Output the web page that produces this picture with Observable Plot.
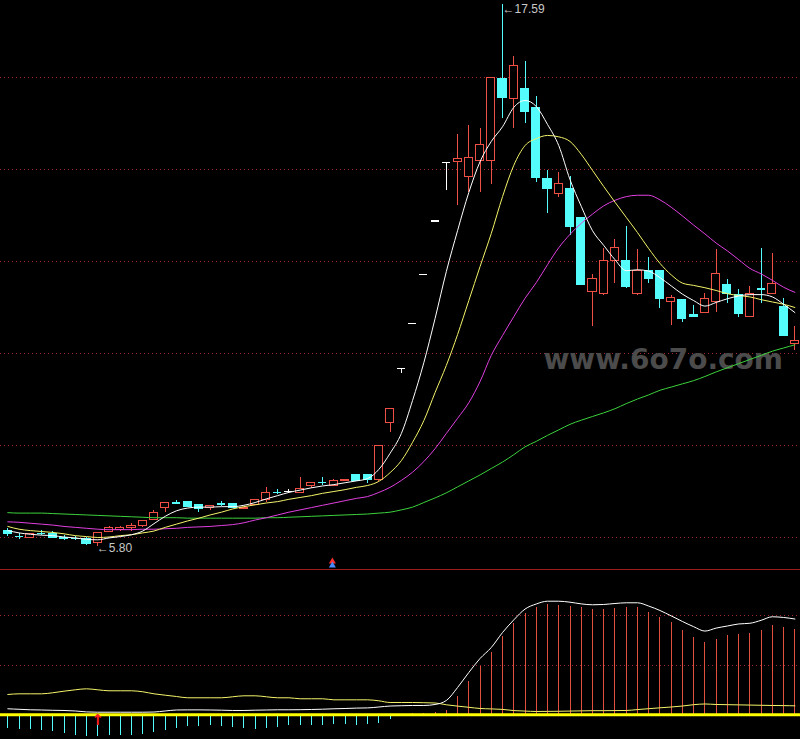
<!DOCTYPE html>
<html><head><meta charset="utf-8">
<script src="https://cdn.jsdelivr.net/npm/d3@7"></script>
<script src="https://cdn.jsdelivr.net/npm/@observablehq/plot@0.6"></script>
<style>
html,body{margin:0;padding:0;background:#000;}
#chart{width:800px;background:#000;}
#chart svg{display:block;}
#sep{height:1px;background:#9a1e1e;}
</style></head><body><div id="chart"></div>
<script>
// ---- price candles (index 0..70) ----
const opens=[6.15,6.03,5.99,6.09,6.07,6.00,5.98,5.97,5.89,6.11,
6.17,6.20,6.26,6.38,6.65,6.76,6.78,6.70,6.65,6.74,
6.72,6.61,6.71,6.82,6.99,7.00,6.97,7.12,7.20,7.11,
7.22,7.35,7.35,7.24,8.48,9.67,10.65,11.71,12.88,14.16,
14.16,13.83,14.18,14.18,15.97,15.53,15.75,15.33,13.80,13.47,
13.58,12.94,11.33,11.30,12.01,12.02,11.30,11.79,11.80,11.13,
11.17,10.84,10.88,11.12,11.48,11.28,10.79,11.42,11.30,11.01,
10.20];
const highs=[6.19,6.08,6.08,6.15,6.12,6.04,6.02,6.01,6.11,6.23,
6.24,6.30,6.38,6.59,6.77,6.80,6.79,6.71,6.69,6.78,
6.73,6.65,6.83,7.09,7.04,7.05,7.31,7.20,7.30,7.26,
7.27,7.38,7.36,8.00,8.81,9.67,10.65,11.71,12.88,14.16,
14.75,14.95,14.90,16.00,17.59,16.46,16.35,15.59,13.98,13.93,
13.85,12.95,11.71,12.28,12.48,12.77,12.26,12.09,11.81,11.26,
11.18,11.04,11.30,12.26,11.61,11.39,11.46,12.28,12.18,11.19,
10.59];
const lows=[6.02,5.96,5.98,6.04,5.98,5.93,5.93,5.83,5.80,6.10,
6.12,6.14,6.21,6.37,6.55,6.71,6.65,6.55,6.59,6.68,
6.64,6.60,6.70,6.77,6.93,6.95,6.96,7.06,7.13,7.10,
7.21,7.21,7.17,7.22,8.28,9.57,10.65,11.71,12.88,13.54,
13.22,13.51,13.51,13.67,15.10,14.90,15.01,13.72,13.04,13.40,
12.57,11.47,10.59,11.26,11.52,11.41,11.26,11.52,10.97,10.61,
10.68,10.78,10.87,10.90,11.09,10.79,10.78,11.08,11.29,10.37,
10.07];
const closes=[6.07,6.02,6.07,6.08,5.99,5.99,5.97,5.85,6.09,6.21,
6.21,6.26,6.36,6.53,6.76,6.75,6.66,6.62,6.68,6.73,
6.65,6.64,6.82,6.97,6.98,7.00,7.06,7.19,7.19,7.22,
7.26,7.22,7.26,7.99,8.80,9.67,10.65,11.71,12.88,14.16,
14.23,14.25,14.54,15.99,15.55,16.25,15.25,13.81,13.57,13.69,
12.75,11.48,11.61,12.02,12.30,11.44,11.80,11.61,11.19,11.20,
10.75,10.80,11.19,11.73,11.30,10.85,11.30,11.40,11.52,10.38,
10.28];

// ---- moving averages ----
const ma5=[6.15,6.10,6.07,6.05,6.04,6.01,5.99,5.96,5.95,5.99,
6.02,6.06,6.14,6.30,6.46,6.58,6.64,6.66,6.66,6.67,
6.67,6.70,6.76,6.84,6.91,6.98,7.03,7.08,7.12,7.15,
7.19,7.23,7.28,7.48,7.83,8.26,8.98,9.80,10.76,11.78,
12.67,13.50,14.17,14.61,14.93,15.35,15.50,15.37,14.98,14.52,
13.78,13.20,12.67,12.35,12.04,11.80,11.82,11.79,11.65,11.47,
11.29,11.15,11.03,11.11,11.19,11.25,11.28,11.28,11.23,11.07,
10.89];
const ma10=[6.24,6.18,6.15,6.13,6.11,6.08,6.04,6.02,6.00,6.01,
6.04,6.06,6.10,6.14,6.22,6.29,6.36,6.42,6.49,6.55,
6.62,6.67,6.71,6.75,6.78,6.83,6.87,6.91,6.96,7.00,
7.04,7.09,7.13,7.22,7.41,7.67,8.07,8.54,9.15,9.74,
10.41,11.15,11.89,12.61,13.41,14.09,14.52,14.67,14.74,14.71,
14.61,14.33,13.98,13.63,13.29,12.96,12.63,12.28,11.96,11.71,
11.53,11.48,11.43,11.37,11.30,11.26,11.23,11.17,11.12,11.07,
11.00];
const ma20=[6.34,6.33,6.31,6.29,6.27,6.24,6.22,6.20,6.18,6.17,
6.17,6.17,6.18,6.18,6.19,6.20,6.22,6.23,6.24,6.26,
6.28,6.32,6.38,6.43,6.49,6.55,6.60,6.65,6.70,6.75,
6.80,6.85,6.89,6.98,7.09,7.24,7.42,7.65,7.93,8.26,
8.59,8.93,9.39,9.96,10.39,10.80,11.20,11.54,11.93,12.30,
12.59,12.83,13.03,13.21,13.33,13.41,13.44,13.44,13.34,13.18,
12.99,12.79,12.60,12.40,12.23,12.04,11.85,11.73,11.59,11.44,
11.33];
const ma60=[6.54,6.53,6.53,6.53,6.52,6.51,6.50,6.49,6.48,6.47,
6.46,6.45,6.44,6.43,6.43,6.43,6.42,6.42,6.42,6.42,
6.42,6.42,6.42,6.43,6.43,6.44,6.45,6.46,6.47,6.48,
6.49,6.50,6.51,6.53,6.55,6.60,6.66,6.76,6.86,6.97,
7.10,7.23,7.36,7.50,7.64,7.80,7.97,8.09,8.22,8.34,
8.46,8.55,8.63,8.71,8.80,8.91,9.01,9.10,9.20,9.27,
9.34,9.41,9.50,9.60,9.69,9.78,9.87,9.96,10.05,10.12,
10.19];

// ---- indicator panel ----
const histValues=[-0.27,-0.29,-0.29,-0.31,-0.33,-0.37,-0.41,-0.43,-0.43,-0.41,
-0.41,-0.41,-0.39,-0.35,-0.31,-0.27,-0.23,-0.23,-0.21,-0.23,
-0.25,-0.27,-0.29,-0.27,-0.25,-0.21,-0.21,-0.21,-0.21,-0.19,
-0.19,-0.21,-0.19,-0.17,-0.09,-0.02,0.02,0.03,0.05,0.09,
0.37,0.67,0.97,1.26,1.58,1.84,2.04,2.16,2.22,2.20,
2.18,2.16,2.12,2.12,2.14,2.16,2.16,2.06,1.96,1.86,
1.70,1.56,1.46,1.52,1.60,1.62,1.64,1.70,1.80,1.76,
1.72];
const difLine=[0.121,0.111,0.101,0.097,0.091,0.087,0.077,0.058,0.052,0.052,
0.052,0.052,0.052,0.056,0.077,0.097,0.099,0.099,0.097,0.093,
0.087,0.087,0.093,0.097,0.101,0.101,0.103,0.107,0.113,0.121,
0.127,0.135,0.139,0.157,0.177,0.183,0.188,0.188,0.208,0.288,
0.550,0.853,1.135,1.357,1.659,1.913,2.131,2.234,2.290,2.290,
2.270,2.236,2.218,2.224,2.244,2.258,2.258,2.192,2.103,1.994,
1.881,1.776,1.688,1.748,1.790,1.831,1.845,1.905,1.976,1.962,
1.931];
const deaLine=[0.409,0.423,0.423,0.423,0.444,0.476,0.504,0.524,0.504,0.484,
0.484,0.484,0.464,0.423,0.395,0.369,0.343,0.343,0.343,0.343,
0.363,0.383,0.383,0.363,0.343,0.343,0.323,0.323,0.323,0.302,
0.302,0.302,0.302,0.282,0.248,0.248,0.248,0.244,0.238,0.202,
0.175,0.151,0.127,0.119,0.109,0.085,0.075,0.067,0.069,0.071,
0.075,0.079,0.083,0.083,0.085,0.087,0.105,0.123,0.141,0.157,
0.177,0.204,0.218,0.208,0.204,0.200,0.196,0.192,0.188,0.185,
0.181];

// ---- ticks, labels, signals ----
const priceGrid=[6,8,10,12,14,16];
const indicatorGrid=[1,2];
const highLabel={i:44, text:"←17.59"};
const lowLabel={i:8, text:"←5.80"};
const signalUpper=[29];
const signalLower=[8];
const watermark="www.6o7o.com";

// ---- styles ----
const RED="#ee5046", CYAN="#54fcfc", WHITE="#ffffff";
const xDomain=[-0.65,70.5];
const priceDomain=[5.304,17.674];
const indDomain=[-0.498,2.909];
const bodyHalf=0.36;

const candles=opens.map((o,i)=>{
  const c=closes[i];
  const col = c>o ? RED : (c<o ? CYAN : WHITE);
  return {i,o,h:highs[i],l:lows[i],c,col,flat:Math.abs(c-o)<0.02};
});
const series=(arr)=>arr.map((v,i)=>({i,v}));
const grid={stroke:"#a02828",strokeDasharray:"1,3",shapeRendering:"crispEdges"};

const upper=Plot.plot({
  width:800,height:569,margin:0,
  x:{type:"linear",domain:xDomain,axis:null},
  y:{type:"linear",domain:priceDomain,axis:null},
  color:{type:"identity"},
  style:{background:"#000",fontFamily:"Liberation Sans"},
  marks:[
    Plot.ruleY(priceGrid,grid),
    Plot.text([watermark],{frameAnchor:"top-left",dx:543,dy:349,text:d=>d,textAnchor:"start",
      fontSize:28,fontWeight:"bold",fontFamily:"DejaVu Sans",fill:"#4b4b4b"}),
    Plot.ruleX(candles,{x:"i",y1:"l",y2:"h",stroke:"col",strokeWidth:1,shapeRendering:"crispEdges"}),
    Plot.rect(candles.filter(d=>!d.flat),{x1:d=>d.i-bodyHalf,x2:d=>d.i+bodyHalf,
      y1:d=>Math.min(d.o,d.c),y2:d=>Math.max(d.o,d.c),
      fill:d=>d.c>d.o?"#000":d.col,stroke:"col",strokeWidth:1,shapeRendering:"crispEdges"}),
    Plot.ruleY(candles.filter(d=>d.flat),{y:"c",x1:d=>d.i-bodyHalf,x2:d=>d.i+bodyHalf,
      stroke:"col",strokeWidth:1.2,shapeRendering:"crispEdges"}),
    Plot.line(series(ma60),{x:"i",y:"v",stroke:"#3cd23c",strokeWidth:1,curve:"monotone-x"}),
    Plot.line(series(ma20),{x:"i",y:"v",stroke:"#e040e0",strokeWidth:1,curve:"monotone-x"}),
    Plot.line(series(ma10),{x:"i",y:"v",stroke:"#f4f46a",strokeWidth:1,curve:"monotone-x"}),
    Plot.line(series(ma5),{x:"i",y:"v",stroke:"#ffffff",strokeWidth:1,curve:"monotone-x"}),
    Plot.text([highLabel],{x:"i",y:()=>highs[highLabel.i],text:"text",textAnchor:"start",dy:5,
      fontSize:12,fill:"#c8c8c8"}),
    Plot.text([lowLabel],{x:"i",y:()=>lows[lowLabel.i],text:"text",textAnchor:"start",dy:1,dx:-1,
      fontSize:12,fill:"#c8c8c8"}),
    Plot.dot(signalUpper,{x:d=>d,y:()=>priceDomain[0],symbol:"triangle",r:2.6,dy:-8,dx:-1.5,fill:"#ff3030",stroke:"none"}),
    Plot.dot(signalUpper,{x:d=>d,y:()=>priceDomain[0],symbol:"triangle",r:2.6,dy:-4,dx:-1.5,fill:"#4a8cff",stroke:"none"})
  ]
});

const hist=series(histValues);
const lower=Plot.plot({
  width:800,height:169,margin:0,
  x:{type:"linear",domain:xDomain,axis:null},
  y:{type:"linear",domain:indDomain,axis:null},
  color:{type:"identity"},
  style:{background:"#000",fontFamily:"DejaVu Sans"},
  marks:[
    Plot.ruleY(indicatorGrid,grid),
    Plot.ruleX(hist,{x:"i",y1:0,y2:"v",stroke:d=>d.v>=0?"#e0503c":CYAN,strokeWidth:1,shapeRendering:"crispEdges"}),
    Plot.ruleY([0],{stroke:"#ffff00",strokeWidth:3}),
    Plot.line(series(deaLine),{x:"i",y:"v",stroke:"#f4f46a",strokeWidth:1,curve:"monotone-x"}),
    Plot.line(series(difLine),{x:"i",y:"v",stroke:"#ffffff",strokeWidth:1,curve:"monotone-x"}),
    Plot.text(signalLower,{x:d=>d,y:()=>0,text:()=>"↑",dy:5,fontSize:15,fontWeight:"bold",fill:"#ff2020"})
  ]
});

const root=document.getElementById("chart");
root.appendChild(upper);
const sep=document.createElement("div"); sep.id="sep"; root.appendChild(sep);
root.appendChild(lower);
</script>
</body></html>
